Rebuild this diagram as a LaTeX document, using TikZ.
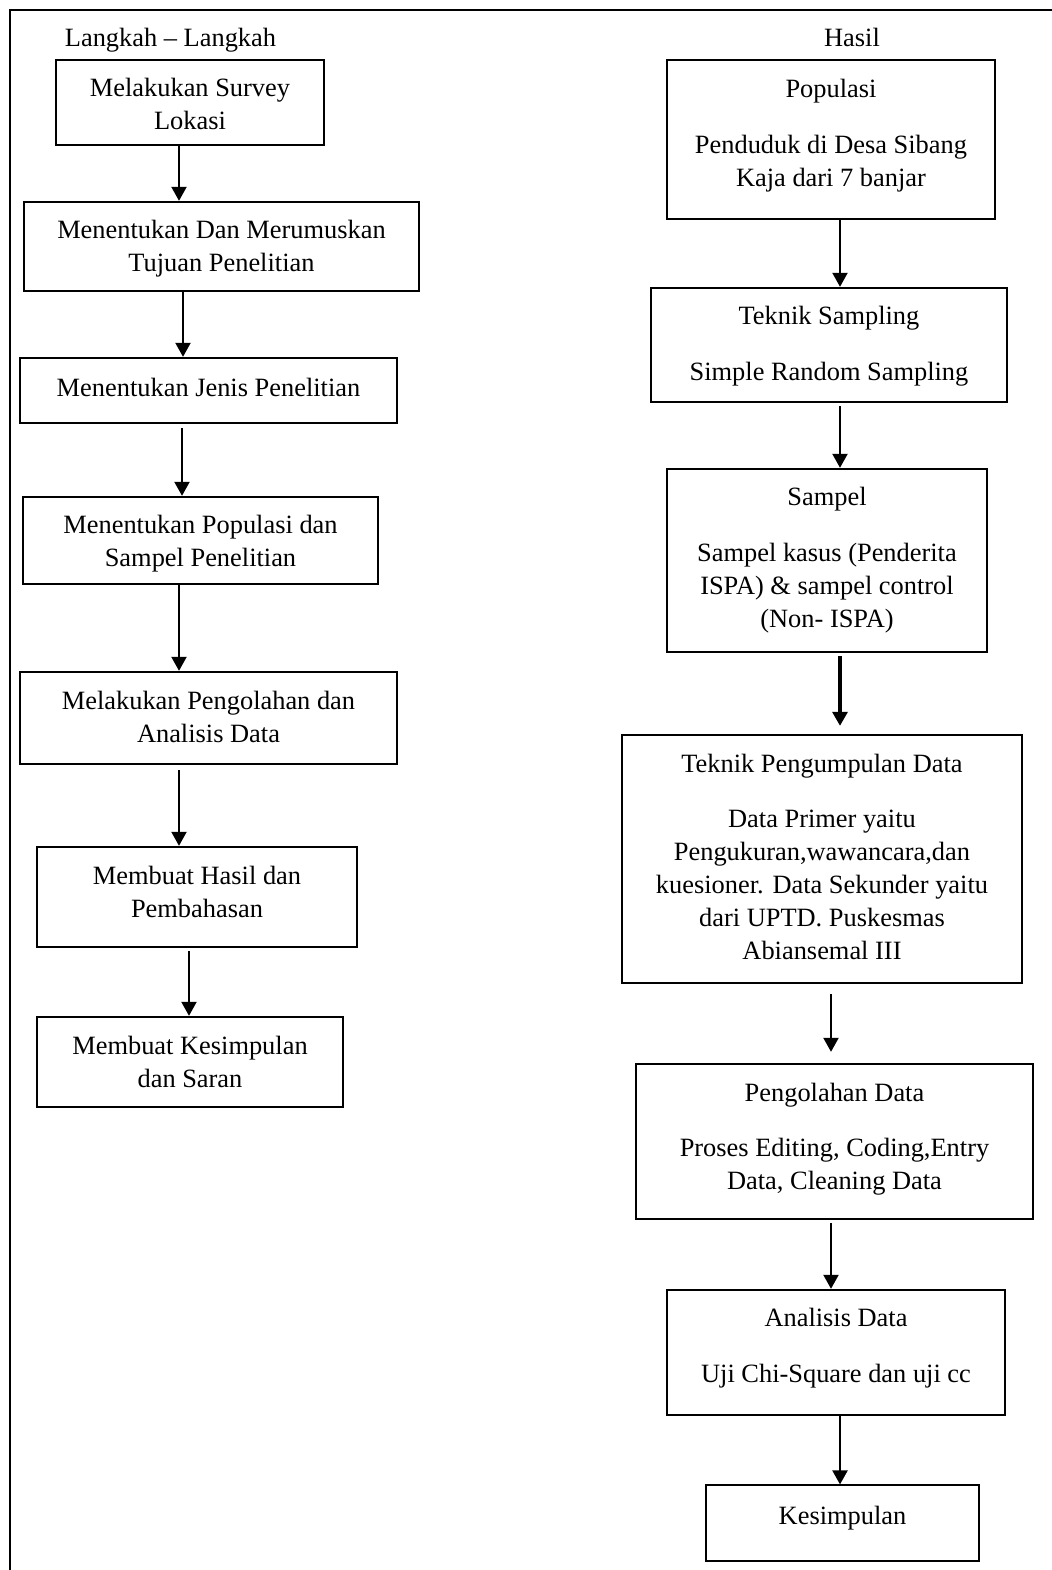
\documentclass[tikz,border=0pt]{standalone}
\usepackage{fontspec}
\setmainfont{Liberation Serif}
\usetikzlibrary{arrows.meta}
\newcommand{\lastdp}[1]{\rule[-#1pt]{0pt}{#1pt}}
\newcommand{\firstht}{\rule{0pt}{12.5pt}}
\begin{document}
\begin{tikzpicture}[x=0.5pt,y=-0.5pt,
  txtfont/.style={font=\fontsize{13.2pt}{16.5pt}\selectfont},
  box/.style={draw, line width=1.2pt, inner sep=0pt, align=center, txtfont},
  thinbox/.style={box, line width=0.6pt},
  lbl/.style={inner sep=0pt, txtfont},
  arr/.style={line width=1.1pt, -{Triangle[length=7pt,width=7.5pt]}},
  thickarr/.style={arr, line width=1.6pt}]
\useasboundingbox (0,0) rectangle (1052,1570);
\fill[white] (0,0) rectangle (1052,1570);
% outer frame (only top and left edges visible)
\draw[line width=1.3pt] (1052,10) -- (10,10) -- (10,1570);

% headers
\node[lbl] (hl) at (170.5,40) {Langkah – Langkah};
\node[lbl] (hr) at (852,37) {Hasil};

% left column
\node[box, minimum width=134pt, minimum height=42.5pt] (b1) at (190,102.5) {\firstht Melakukan Survey\\Lokasi\lastdp{2}};
\node[box, minimum width=197.5pt, minimum height=44.5pt] (b2) at (221.5,246.5) {\firstht Menentukan Dan Merumuskan\\Tujuan Penelitian\lastdp{4}};
\node[box, minimum width=188.5pt, minimum height=32.5pt] (b3) at (208.5,390.5) {\firstht Menentukan Jenis Penelitian\lastdp{6.5}};
\node[box, minimum width=177.5pt, minimum height=43.5pt] (b4) at (200.5,540.5) {\firstht Menentukan Populasi dan\\Sampel Penelitian\lastdp{2.5}};
\node[box, minimum width=188.5pt, minimum height=46pt] (b5) at (208.5,718) {\firstht Melakukan Pengolahan dan\\Analisis Data\lastdp{5}};
\node[box, minimum width=160pt, minimum height=50pt] (b6) at (197,897) {\firstht Membuat Hasil dan\\Pembahasan\lastdp{8.5}};
\node[box, minimum width=153pt, minimum height=45pt] (b7) at (190,1062) {\firstht Membuat Kesimpulan\\dan Saran\lastdp{3.5}};

% right column
\node[box, minimum width=164pt, minimum height=79.5pt] (ra) at (831,139.5) {\firstht Populasi\\[11.5pt]Penduduk di Desa Sibang\\Kaja dari 7 banjar\lastdp{10}};
\node[box, minimum width=178pt, minimum height=57pt] (rb) at (829,345) {\firstht Teknik Sampling\\[11.5pt]Simple Random Sampling\lastdp{5}};
\node[box, minimum width=160pt, minimum height=91.5pt] (rc) at (827,560.5) {\firstht Sampel\\[11.5pt]Sampel kasus (Penderita\\ISPA) \& sampel control\\(Non- ISPA)\lastdp{7}};
\node[box, minimum width=200pt, minimum height=124pt] (rd) at (822,859) {\firstht Teknik Pengumpulan Data\\[11pt]Data Primer yaitu\\Pengukuran,wawancara,dan\\kuesioner. Data Sekunder yaitu\\dari UPTD. Puskesmas\\Abiansemal III\lastdp{5.5}};
\node[box, minimum width=198.5pt, minimum height=77.5pt] (re) at (834.5,1141.5) {\firstht Pengolahan Data\\[11pt]Proses Editing, Coding,Entry\\Data, Cleaning Data\lastdp{8.5}};
\node[box, minimum width=169pt, minimum height=62.5pt] (rf) at (836,1352.5) {\firstht Analisis Data\\[11.5pt]Uji Chi-Square dan uji cc\lastdp{10.5}};
\node[thinbox, minimum width=136.5pt, minimum height=38pt] (rg) at (842.5,1523) {\firstht Kesimpulan\lastdp{11.5}};

% left arrows
\draw[arr] ([xshift=-5.5pt]b1.south) -- ([xshift=-21.25pt]b2.north);
\draw[arr] ([xshift=-19.25pt]b2.south) -- ([xshift=-12.75pt]b3.north);
\draw[arr, shorten <=2pt] ([xshift=-13.25pt]b3.south) -- ([xshift=-9.25pt]b4.north);
\draw[arr] ([xshift=-10.75pt]b4.south) -- ([xshift=-14.75pt]b5.north);
\draw[arr, shorten <=2.5pt] ([xshift=-14.75pt]b5.south) -- ([xshift=-9pt]b6.north);
\draw[arr, shorten <=1.5pt] ([xshift=-4pt]b6.south) -- ([xshift=-0.5pt]b7.north);

% right arrows
\draw[arr] ([xshift=4.5pt]ra.south) -- ([xshift=5.5pt]rb.north);
\draw[arr, shorten <=1.5pt] ([xshift=5.5pt]rb.south) -- ([xshift=6.5pt]rc.north);
\draw[thickarr, shorten <=1.5pt, shorten >=4pt] ([xshift=6.5pt]rc.south) -- ([xshift=9pt]rd.north);
\draw[arr, shorten <=5pt, shorten >=5.5pt] ([xshift=4.5pt]rd.south) -- ([xshift=-1.75pt]re.north);
\draw[arr, shorten <=1.5pt] ([xshift=-1.75pt]re.south) -- ([xshift=-2.5pt]rf.north);
\draw[arr] ([xshift=2pt]rf.south) -- ([xshift=-1.25pt]rg.north);
\end{tikzpicture}
\end{document}
